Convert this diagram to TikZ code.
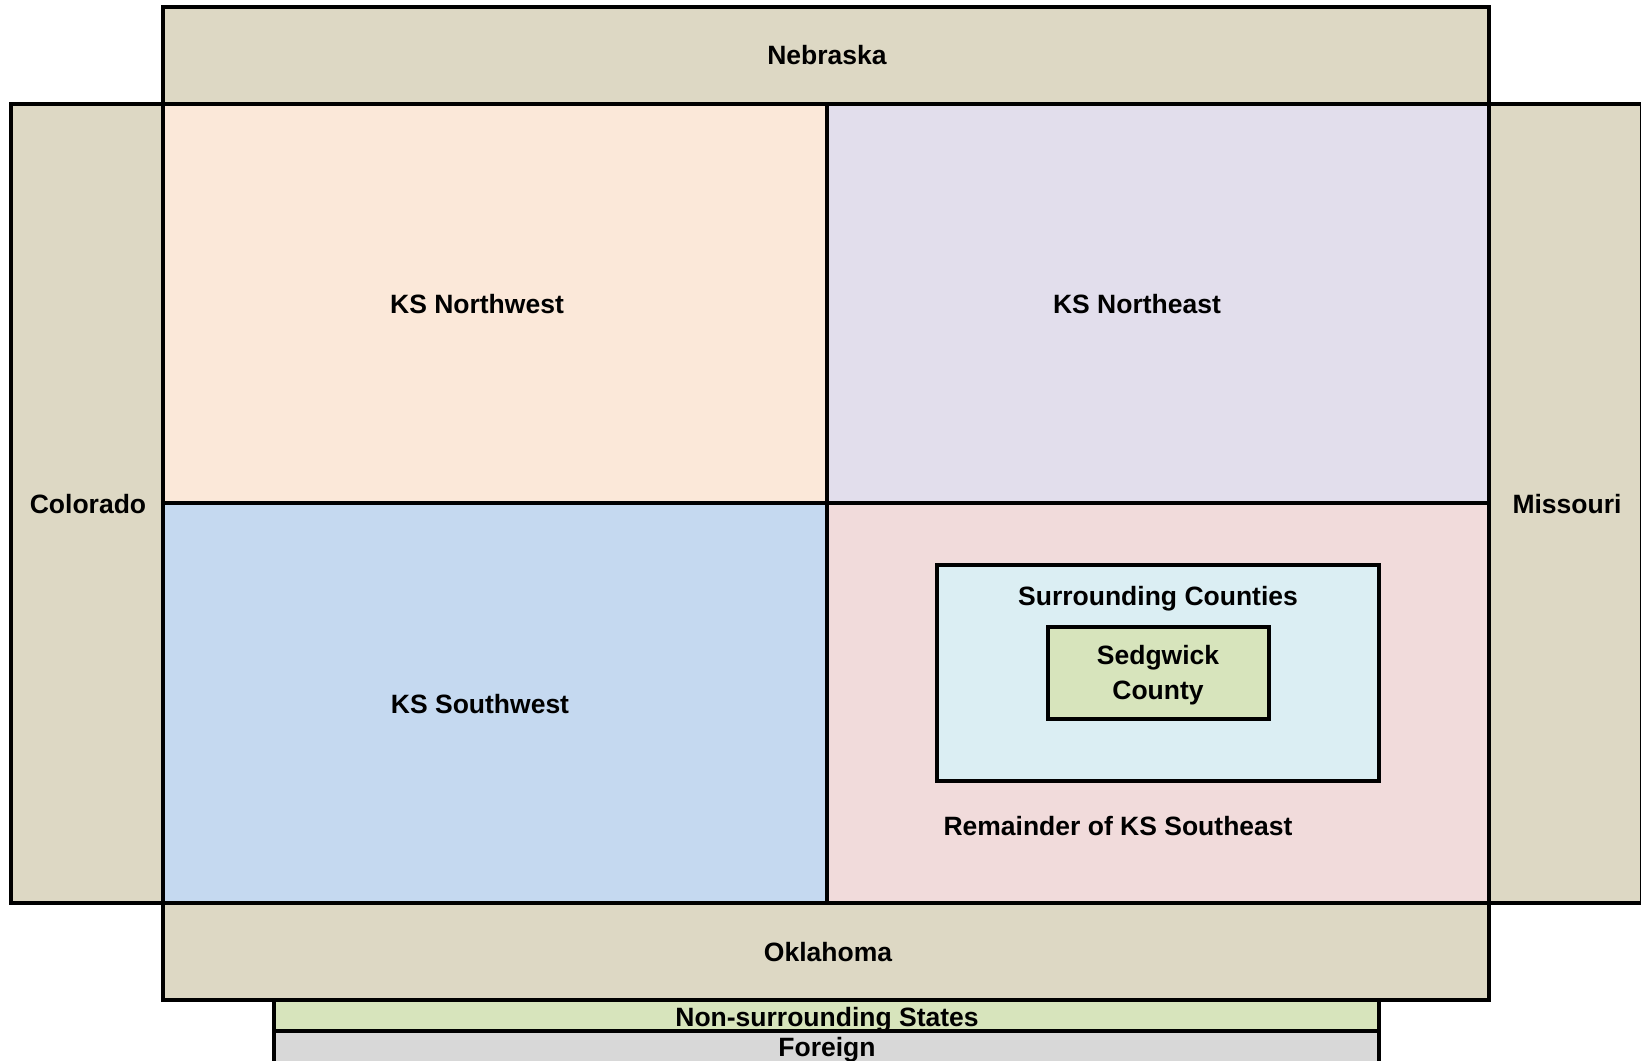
\documentclass[tikz,border=0pt]{standalone}
\usepackage{fontspec}
\setmainfont{Liberation Sans}
\definecolor{statetan}{HTML}{DDD8C4}
\definecolor{nwpeach}{HTML}{FBE8D9}
\definecolor{nelilac}{HTML}{E2DEEC}
\definecolor{swblue}{HTML}{C5D9F0}
\definecolor{sepink}{HTML}{F1DBDB}
\definecolor{cntyblue}{HTML}{DBEEF3}
\definecolor{sedgreen}{HTML}{D7E4BC}
\definecolor{frgngray}{HTML}{D8D8D8}

\begin{document}
\begin{tikzpicture}[x=0.5pt,y=-0.5pt,line width=1.7pt,
    region/.style={draw=black},
    lbl/.style={font=\fontsize{13.25}{17.35}\selectfont\bfseries,align=center,inner sep=0pt,anchor=base}]
\useasboundingbox (0,0) rectangle (1641,1060);
% neighbouring states
\draw[region,fill=statetan] (163,7) rectangle (1489,104);
\draw[region,fill=statetan] (11,104) rectangle (163,903);
\draw[region,fill=statetan] (1489,104) rectangle (1642,903);
\draw[region,fill=statetan] (163,903) rectangle (1489,1000);
\draw[region,fill=sedgreen] (274,1000) rectangle (1379,1031);
\draw[region,fill=frgngray] (274,1031) rectangle (1379,1064);
% Kansas regions
\draw[region,fill=nwpeach] (163,104) rectangle (827,503);
\draw[region,fill=nelilac] (827,104) rectangle (1489,503);
\draw[region,fill=swblue] (163,503) rectangle (827,903);
\draw[region,fill=sepink] (827,503) rectangle (1489,903);
\draw[region,fill=cntyblue] (937,565) rectangle (1379,781);
\draw[region,fill=sedgreen] (1048,627) rectangle (1269,719);
% labels
\node[lbl] (nebraska) at (827,64) {Nebraska};
\node[lbl] (colorado) at (88,513) {Colorado};
\node[lbl] (missouri) at (1567,513) {Missouri};
\node[lbl] (oklahoma) at (828,961) {Oklahoma};
\node[lbl] (nonsurr) at (827,1026) {Non-surrounding States};
\node[lbl] (foreign) at (827,1056) {Foreign};
\node[lbl] (ksnw) at (477,313) {KS Northwest};
\node[lbl] (ksne) at (1137,313) {KS Northeast};
\node[lbl] (kssw) at (480,713) {KS Southwest};
\node[lbl] (surr) at (1158,605) {Surrounding Counties};
\node[lbl,anchor=center] (sedg) at (1158,675) {Sedgwick\\County};
\node[lbl] (ksse) at (1118,835) {Remainder of KS Southeast};
\end{tikzpicture}
\end{document}
